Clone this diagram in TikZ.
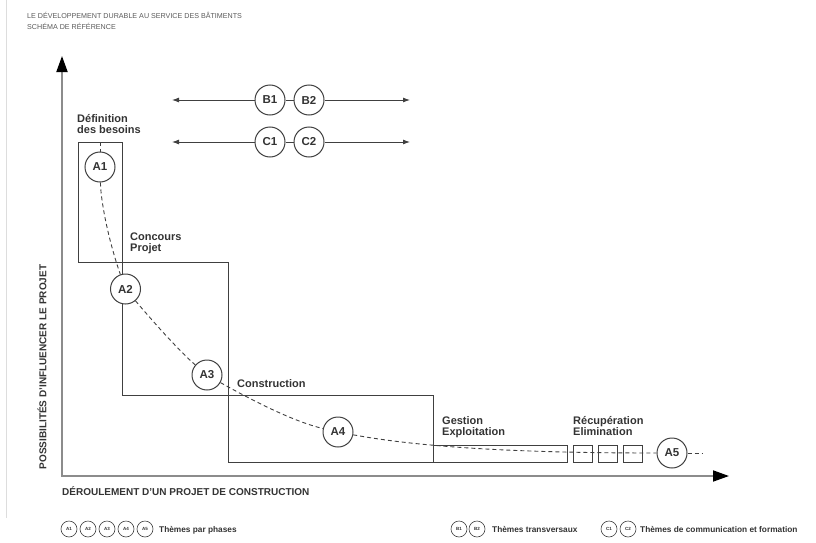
\documentclass[tikz,border=0pt]{standalone}
\usepackage{fontspec}
\setmainfont{Liberation Sans}
\usetikzlibrary{arrows.meta}
\definecolor{ln}{HTML}{404040}
\definecolor{tx}{HTML}{333333}
\definecolor{ax}{HTML}{8C8C8C}
\definecolor{ttl}{HTML}{5A5A5A}
\definecolor{edge}{HTML}{DDDDDD}
\begin{document}
\begin{tikzpicture}[x=1pt,y=-1pt,
  box/.style={draw=ln, line width=0.9pt},
  phase/.style={circle, draw=ln, line width=1pt, fill=white, minimum size=30pt, inner sep=0pt,
    font=\bfseries\fontsize{11.5}{11.5}\selectfont, text=tx},
  leg/.style={circle, draw=ln, line width=0.6pt, fill=white, minimum size=16pt, inner sep=0pt,
    font=\bfseries\fontsize{4.5}{4.5}\selectfont, text=tx},
  lbl/.style={font=\bfseries\fontsize{11}{11}\selectfont, text=tx, inner sep=0pt, align=left},
  legtxt/.style={font=\bfseries\fontsize{8.3}{8.3}\selectfont, text=tx, inner sep=0pt, anchor=base west},
  ttlstyle/.style={font=\fontsize{7.15}{7.15}\selectfont, text=ttl, inner sep=0pt, anchor=base west},
  axlbl/.style={font=\bfseries\fontsize{10}{10}\selectfont, text=tx, inner sep=0pt},
  curve/.style={draw=ln, line width=0.9pt, dash pattern=on 4pt off 3pt},
  conn/.style={draw=ln, line width=0.9pt},
  axis/.style={draw=ax, line width=1.8pt}
]
\useasboundingbox (0,0) rectangle (816,543);
% faint left edge line
\draw[edge, line width=0.8pt] (6,0) -- (6,518);

% titles
\node[ttlstyle] (t1) at (27,19) {LE DÉVELOPPEMENT DURABLE AU SERVICE DES BÂTIMENTS};
\node[ttlstyle] (t2) at (27,30) {SCHÉMA DE RÉFÉRENCE};

% axes
\coordinate (O) at (62,476);
\coordinate (ytip) at (62,56);
\coordinate (xtip) at (729,476);
\draw[axis, {Triangle[length=16pt,width=11pt,color=black]}-{Triangle[length=16pt,width=11pt,color=black]}] (ytip) -- (O) -- (xtip);
\node[axlbl, rotate=90] (ylab) at (42,367) {POSSIBILITÉS D'INFLUENCER LE PROJET};
\node[axlbl, anchor=base west] (xlab) at (62,495) {DÉROULEMENT D'UN PROJET DE CONSTRUCTION};

% phase boxes
\draw[box] (78,262) -- (78,142) -- (122,142) -- (122,395) -- (433,395) -- (433,462) -- (228,462) -- (228,262) -- cycle;
\draw[box] (433,445) rectangle (567,462);
\draw[box] (573,445) rectangle (592,462);
\draw[box] (598,445) rectangle (617,462);
\draw[box] (623,445) rectangle (642,462);

% phase labels
\node[lbl, anchor=north west] (l1) at (77,114.5) {Définition\\des besoins};
\node[lbl, anchor=north west] (l2) at (130,233) {Concours\\Projet};
\node[lbl, anchor=base west] (l3) at (237,387) {Construction};
\node[lbl, anchor=north west] (l4) at (442,416) {Gestion\\Exploitation};
\node[lbl, anchor=north west] (l5) at (573,416) {Récupération\\Elimination};

% phase circles
\node[phase] (A1) at (100,167) {A1};
\node[phase] (A2) at (125.5,289) {A2};
\node[phase] (A3) at (207,375) {A3};
\node[phase] (A4) at (338,432) {A4};
\node[phase] (A5) at (672,453) {A5};

% dashed curve
\coordinate (ctop) at (100,142);
\coordinate (cend) at (702,453);
\draw[curve] (ctop) -- (A1);
\draw[curve] (A1) .. controls (101,205) and (110,245) .. (A2);
\draw[curve] (A2) .. controls (150,318) and (178,350) .. (A3);
\draw[curve] (A3) .. controls (255,402) and (295,422) .. (A4);
\draw[curve] (A4) .. controls (430,449) and (540,453) .. (A5);
\draw[curve] (A5) -- (cend);

% transversal themes
\node[phase] (B1) at (270,100) {B1};
\node[phase] (B2) at (309,100) {B2};
\node[phase] (C1) at (270,142) {C1};
\node[phase] (C2) at (309,142) {C2};
\coordinate (BL) at (172,100);
\coordinate (BR) at (410,100);
\coordinate (CL) at (172,142);
\coordinate (CR) at (410,142);
\draw[conn, -{Latex[length=7pt,width=5pt]}] (B1) -- (BL);
\draw[conn] (B1) -- (B2);
\draw[conn, -{Latex[length=7pt,width=5pt]}] (B2) -- (BR);
\draw[conn, -{Latex[length=7pt,width=5pt]}] (C1) -- (CL);
\draw[conn] (C1) -- (C2);
\draw[conn, -{Latex[length=7pt,width=5pt]}] (C2) -- (CR);

% legend
\node[leg] (la1) at (69,529) {A1};
\node[leg] (la2) at (88,529) {A2};
\node[leg] (la3) at (107,529) {A3};
\node[leg] (la4) at (126,529) {A4};
\node[leg] (la5) at (145,529) {A5};
\node[legtxt] (lt1) at (159,532) {Thèmes par phases};
\node[leg] (lb1) at (459,529) {B1};
\node[leg] (lb2) at (477,529) {B2};
\node[legtxt] (lt2) at (492,532) {Thèmes transversaux};
\node[leg] (lc1) at (609,529) {C1};
\node[leg] (lc2) at (628,529) {C2};
\node[legtxt] (lt3) at (640,532) {Thèmes de communication et formation};
\end{tikzpicture}
\end{document}
